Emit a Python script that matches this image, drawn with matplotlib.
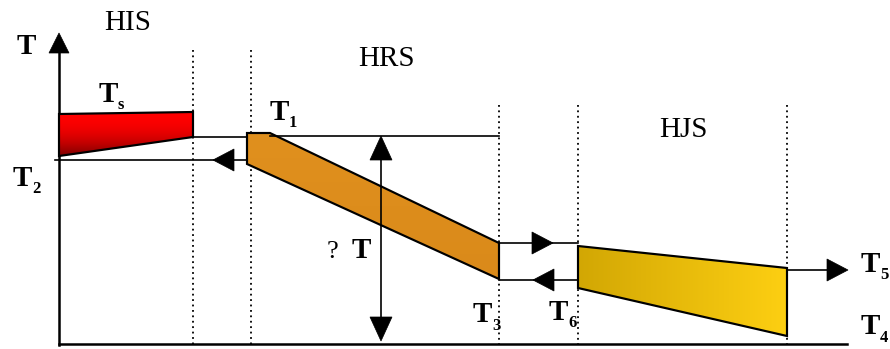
import numpy as np
import matplotlib
matplotlib.use("Agg")
import matplotlib.pyplot as plt
from matplotlib.patches import Polygon

# ---- data (diagram coordinates, pixel-like units) ----
section_names = ["HIS", "HRS", "HJS"]
section_label_pos = [(128, 23), (386, 59), (683, 130)]
boundaries_tall = [193, 251]
boundaries_short = [499, 578, 787]
axis_origin = (59, 344)
axis_x_end = 847
axis_y_top = 33

red_profile_x = [59, 193, 193, 59]
red_profile_y = [114, 112, 137, 156]
orange_profile_x = [247, 270, 499, 499, 247]
orange_profile_y = [133, 133, 243, 279, 164]
yellow_profile_x = [578, 787, 787, 578]
yellow_profile_y = [246, 268, 336, 288]

# horizontal connecting lines: (y, x_start, x_end, arrow_dir, arrow_tip_x)
flow_lines = [
    (137, 193, 247, None, None),
    (160, 55, 247, "left", 213),
    (136, 270, 499, None, None),
    (243, 499, 578, "right", 553),
    (280, 499, 578, "left", 533),
    (270, 787, 827, "right", 848),
]
delta_x = 381
delta_y = (136, 341)

labels_main = ["T", "T", "T", "T", "T", "T", "T", "T"]
labels_sub = ["", "s", "1", "2", "3", "6", "5", "4"]
labels_pos = [(26, 46), (108, 94), (279, 112), (22, 178), (482, 315),
              (558, 312), (870, 264), (870, 327)]

fig = plt.figure(figsize=(8.9, 3.49), dpi=100)
ax = fig.add_axes([0, 0, 1, 1])
ax.set_xlim(0, 890)
ax.set_ylim(349, 0)
ax.axis('off')

LW = 1.2


def tri(ax, tip_x, tip_y, direction, length=20, half=11):
    if direction == "left":
        pts = [(tip_x, tip_y), (tip_x + length, tip_y - half), (tip_x + length, tip_y + half)]
    elif direction == "right":
        pts = [(tip_x, tip_y), (tip_x - length, tip_y - half), (tip_x - length, tip_y + half)]
    elif direction == "up":
        pts = [(tip_x, tip_y), (tip_x - half, tip_y + length), (tip_x + half, tip_y + length)]
    else:
        pts = [(tip_x, tip_y), (tip_x - half, tip_y - length), (tip_x + half, tip_y - length)]
    ax.add_patch(Polygon(pts, closed=True, facecolor='black', edgecolor='black', lw=0.5, zorder=5))


def gradient_poly(ax, xs, ys, c0, c1, vertical=True, gamma=1.0):
    poly = Polygon(list(zip(xs, ys)), closed=True, facecolor='none', edgecolor='black', lw=LW * 1.3, zorder=4)
    ax.add_patch(poly)
    c0 = np.array(matplotlib.colors.to_rgb(c0))
    c1 = np.array(matplotlib.colors.to_rgb(c1))
    t = np.linspace(0, 1, 256) ** gamma
    grad = c0[None, :] * (1 - t[:, None]) + c1[None, :] * t[:, None]
    if vertical:
        img = grad[:, None, :]
    else:
        img = grad[None, :, :]
    im = ax.imshow(img, extent=[min(xs), max(xs), max(ys), min(ys)], origin='upper',
                   aspect='auto', zorder=3, interpolation='bilinear')
    im.set_clip_path(poly)


# dotted boundaries
for bx in boundaries_tall:
    ax.plot([bx, bx], [50, axis_origin[1]], color='black', ls=(0, (1, 2)), lw=1.3, zorder=2)
for bx in boundaries_short:
    ax.plot([bx, bx], [105, axis_origin[1]], color='black', ls=(0, (1, 2)), lw=1.3, zorder=2)

# axes
ax.plot([axis_origin[0], axis_x_end], [axis_origin[1], axis_origin[1]], color='black', lw=1.8, zorder=3)
ax.plot([axis_origin[0], axis_origin[0]], [axis_origin[1] + 1, axis_y_top + 18], color='black', lw=1.8, zorder=3)
tri(ax, axis_origin[0], axis_y_top, "up", length=20, half=10)

# profiles
gradient_poly(ax, red_profile_x, red_profile_y, '#FF0000', '#7A0000', vertical=True, gamma=2.2)
gradient_poly(ax, orange_profile_x, orange_profile_y, '#E0901E', '#DA8A1A', vertical=True)
gradient_poly(ax, yellow_profile_x, yellow_profile_y, '#D2A704', '#FDCF12', vertical=False)

# flow lines
for y, x0, x1, d, tip in flow_lines:
    ax.plot([x0, x1], [y, y], color='black', lw=LW, zorder=3)
    if d is not None:
        tri(ax, tip, y, d, length=21, half=11)

# delta T arrow
ax.plot([delta_x, delta_x], [delta_y[0] + 10, delta_y[1] - 10], color='black', lw=LW, zorder=3)
tri(ax, delta_x, delta_y[0], "up", length=24, half=11)
tri(ax, delta_x, delta_y[1], "down", length=24, half=11)

# section labels
for name, (x, y) in zip(section_names, section_label_pos):
    ax.text(x, y, name, fontsize=21, family='Liberation Serif', ha='center', va='center', zorder=6)

# temperature labels
for m, s, (x, y) in zip(labels_main, labels_sub, labels_pos):
    ax.text(x, y, m, fontsize=21, family='Liberation Serif', fontweight='bold',
            ha='center', va='center', zorder=6)
    if s:
        ax.text(x + 10, y + 11, s, fontsize=12, family='Liberation Serif', fontweight='bold',
                ha='left', va='center', zorder=6)

ax.text(333, 252, "?", fontsize=19, family='Liberation Serif', ha='center', va='center', zorder=6)
ax.text(361, 251, "T", fontsize=21, family='Liberation Serif', fontweight='bold',
        ha='center', va='center', zorder=6)

fig.savefig("out.png", dpi=100)
